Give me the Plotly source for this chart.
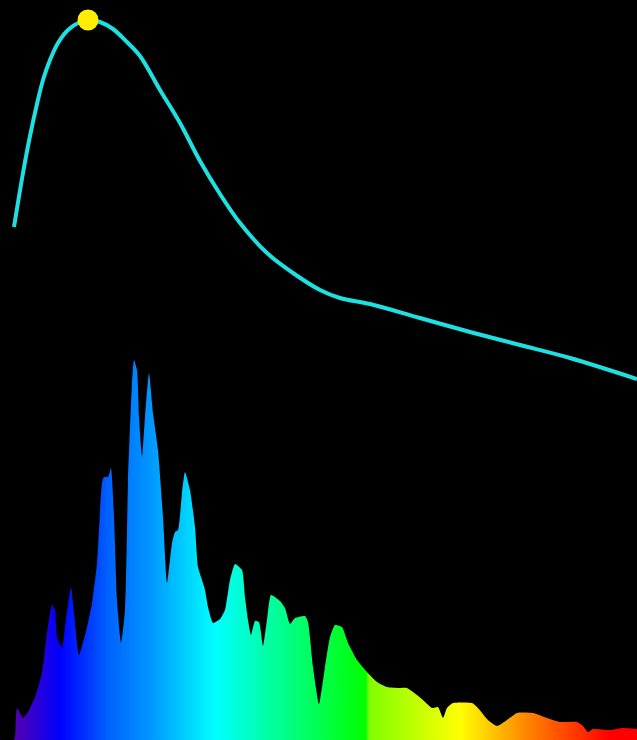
import plotly.graph_objects as go

spectrum_x = [14,15,17,23,28,35,42,47,52,55,57,62,65,71,74,79,87,92,97,102,104,108,111,114,117,121,125,128,132,134,137,139,142,145,149,153,158,163,167,172,175,178,182,185,190,195,198,203,205,208,213,220,225,230,235,242,245,248,251,255,259,263,267,271,280,285,290,295,305,308,313,319,325,330,335,342,348,357,367,377,387,400,407,417,423,432,438,443,447,453,472,478,488,497,507,517,533,547,560,577,583,588,593,610,623,637]
spectrum_v = [0,2,32,22,28,43,67,107,135,130,103,92,113,153,127,85,113,137,177,257,263,263,272,223,140,97,130,257,357,380,370,323,283,323,367,327,290,223,157,197,208,210,247,268,250,213,173,157,150,133,117,121,130,160,176,170,143,120,105,119,118,94,120,145,139,132,116,122,124,118,73,36,73,103,115,113,97,80,68,58,53,52,52,45,40,32,33,22,32,37,37,32,20,14,20,27,27,22,18,18,14,8,11,10,12,11]

curve_x = [14,23,30,37,43,50,58,68,80,88,100,113,127,140,160,180,200,220,240,267,293,320,340,370,420,470,520,570,637]
curve_v = [513,567,604,636,660,680,697,710,718,720,718,711,698,684,650,617,579,546,517,487,467,450,442,436,422,408,395,382,361]

peak_x = [88]
peak_v = [720]

grad_x = [14,60,110,150,215,290,366,369,460,530,610,637]
grad_c = ["rgb(85,0,175)","rgb(0,0,255)","rgb(0,100,255)","rgb(0,150,255)","rgb(0,255,255)","rgb(0,255,128)","rgb(0,255,0)","rgb(128,255,0)","rgb(255,255,0)","rgb(255,128,0)","rgb(255,0,0)","rgb(255,0,0)"]

scale = [[(x - grad_x[0]) / (grad_x[-1] - grad_x[0]), c] for x, c in zip(grad_x, grad_c)]

fig = go.Figure()
fig.add_trace(go.Scatter(
    x=spectrum_x, y=spectrum_v, mode="lines", fill="tozeroy",
    line=dict(width=0, color="rgba(0,0,0,0)", shape="spline", smoothing=0.5),
    fillgradient=dict(type="horizontal", colorscale=scale, start=grad_x[0], stop=grad_x[-1]),
    hoverinfo="skip",
))
fig.add_trace(go.Scatter(
    x=curve_x, y=curve_v, mode="lines",
    line=dict(color="#1fe0e0", width=4, shape="spline", smoothing=1),
))
fig.add_trace(go.Scatter(
    x=peak_x, y=peak_v, mode="markers",
    marker=dict(color="#ffee00", size=21, line=dict(width=0)),
))
fig.update_layout(
    width=637, height=740, showlegend=False,
    margin=dict(l=0, r=0, t=0, b=0),
    paper_bgcolor="black", plot_bgcolor="black",
    xaxis=dict(visible=False, range=[0, 637], fixedrange=True),
    yaxis=dict(visible=False, range=[0, 740], fixedrange=True),
)
fig.write_html("out.html", config={"displayModeBar": False},
               post_script="document.body.style.margin='0';document.body.style.background='black';document.documentElement.style.overflow='hidden';")
